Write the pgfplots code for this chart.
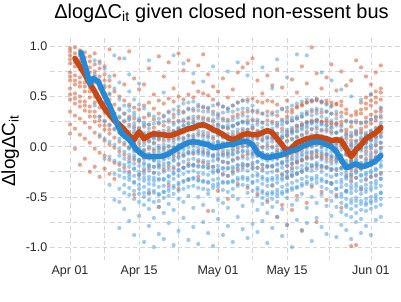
\documentclass[border=0pt]{standalone}
\usepackage{pgfplots}
\usepackage{pgfplotstable}
\pgfplotsset{compat=1.18}
\usepackage{fontspec}
\setmainfont{Liberation Sans}
\definecolor{bline}{RGB}{38,137,214}
\definecolor{oline}{RGB}{200,72,20}
\definecolor{bpt}{RGB}{80,160,225}
\definecolor{opt}{RGB}{212,92,48}
\definecolor{gridc}{RGB}{212,212,222}
\definecolor{tickc}{RGB}{40,40,40}

\pgfplotstableread{
d b1 b2 b3 b4 b5 b6 b7 b8 b9 b10 b11 b12 b13 b14 b15 b16 b17 b18 b19 b20 b21 b22
0 nan nan nan nan nan nan nan nan nan nan nan nan nan nan nan nan nan nan nan nan nan nan
1 nan nan nan nan nan nan nan nan nan nan nan nan nan nan nan nan nan nan nan nan nan nan
2 nan nan nan nan nan nan nan nan nan nan nan nan nan nan nan nan nan nan nan nan nan nan
3 nan nan nan nan nan nan nan nan nan nan nan nan nan nan nan nan nan nan nan nan nan nan
4 nan nan nan nan nan nan nan nan nan nan nan nan nan nan nan nan nan nan nan nan nan nan
5 0.86 0.72 0.55 0.41 nan nan nan nan nan nan nan nan nan nan nan nan nan nan nan nan nan nan
6 0.83 0.66 0.48 0.30 0.12 nan nan nan nan nan nan nan nan nan nan nan nan nan nan nan nan nan
7 0.78 0.61 0.44 0.25 0.08 -0.12 nan nan nan nan nan nan nan nan nan nan nan nan nan nan nan nan
8 0.70 0.52 0.38 0.21 0.05 -0.10 -0.38 nan nan nan nan nan nan nan nan nan nan nan nan nan nan nan
9 0.91 0.58 0.33 0.17 0.02 -0.14 -0.27 -0.53 nan nan nan nan nan nan nan nan nan nan nan nan nan nan
10 0.64 0.47 0.30 0.14 -0.02 -0.16 -0.29 -0.42 -0.81 nan 0.22 0.08 -0.09 -0.23 0.38 -0.55 nan nan nan nan nan nan
11 0.88 0.41 0.26 0.11 -0.05 -0.18 -0.31 -0.46 -0.62 nan 0.19 0.04 -0.12 -0.25 0.33 -0.38 nan nan nan nan nan nan
12 0.55 0.36 0.20 0.06 -0.08 -0.20 -0.33 -0.48 -0.74 0.72 0.13 0.00 -0.14 -0.27 0.28 -0.41 0.40 0.27 0.10 -0.02 -0.16 -0.30
13 0.47 0.31 0.15 0.02 -0.11 -0.22 -0.35 -0.52 -0.88 nan 0.09 -0.05 -0.17 -0.29 0.23 -0.44 0.34 0.18 0.04 -0.09 -0.22 -0.36
14 0.42 0.26 0.12 -0.01 -0.13 -0.25 -0.38 -0.55 -0.69 0.63 0.06 -0.07 -0.19 -0.32 0.19 -0.47 0.28 0.14 -0.03 -0.13 -0.28 -0.42
15 0.38 0.22 0.08 -0.04 -0.16 -0.27 -0.40 -0.58 -0.95 nan 0.02 -0.10 -0.22 -0.34 0.14 -0.50 0.24 0.10 -0.06 -0.18 -0.31 -0.46
16 0.33 0.18 0.05 -0.07 -0.18 -0.30 -0.43 -0.62 -0.79 0.86 0.00 -0.12 -0.24 -0.37 0.11 -0.53 0.22 0.09 -0.08 -0.19 -0.33 -0.47
17 0.30 0.15 0.03 -0.09 -0.20 -0.31 -0.44 -0.71 -1.00 nan -0.02 -0.14 -0.26 -0.38 0.09 -0.55 0.23 0.08 -0.07 -0.20 -0.34 -0.46
18 0.28 0.14 0.01 -0.10 -0.21 -0.33 -0.47 -0.60 -0.87 nan -0.03 -0.15 -0.27 -0.40 0.08 -0.54 0.24 0.10 -0.06 -0.18 -0.32 -0.48
19 0.31 0.16 0.02 -0.09 -0.20 -0.32 -0.45 -0.66 -0.92 0.54 -0.01 -0.13 -0.25 -0.39 0.10 -0.51 0.25 0.09 -0.05 -0.17 -0.33 -0.45
20 0.34 0.19 0.06 -0.06 -0.17 -0.29 -0.41 -0.57 -0.76 nan 0.01 -0.11 -0.23 -0.35 0.13 -0.49 0.27 0.12 -0.04 -0.16 -0.30 -0.44
21 0.37 0.22 0.09 -0.03 -0.14 -0.26 -0.39 -0.63 -0.98 0.91 0.04 -0.08 -0.20 -0.32 0.16 -0.47 0.29 0.15 0.00 -0.13 -0.27 -0.41
22 0.40 0.25 0.12 0.00 -0.11 -0.23 -0.36 -0.52 -0.84 nan 0.07 -0.05 -0.17 -0.29 0.19 -0.44 0.33 0.18 0.02 -0.10 -0.24 -0.38
23 0.43 0.27 0.14 0.03 -0.09 -0.21 -0.34 -0.55 -0.71 0.83 0.09 -0.03 -0.15 -0.27 0.21 -0.42 0.35 0.21 0.05 -0.07 -0.21 -0.35
24 0.44 0.29 0.16 0.05 -0.07 -0.19 -0.32 -0.49 -0.93 nan 0.11 -0.01 -0.13 -0.25 0.23 -0.40 0.37 0.23 0.07 -0.05 -0.19 -0.33
25 0.45 0.30 0.17 0.06 -0.06 -0.18 -0.31 -0.61 -0.80 0.73 0.12 0.00 -0.12 -0.24 0.24 -0.39 0.38 0.24 0.08 -0.04 -0.18 -0.32
26 0.42 0.28 0.16 0.05 -0.07 -0.19 -0.33 -0.50 -0.97 nan 0.11 -0.01 -0.13 -0.26 0.22 -0.41 0.36 0.23 0.06 -0.05 -0.20 -0.34
27 0.40 0.27 0.15 0.04 -0.08 -0.20 -0.34 -0.58 -0.75 0.65 0.10 -0.02 -0.14 -0.27 0.21 -0.42 0.35 0.22 0.06 -0.06 -0.20 -0.35
28 0.39 0.26 0.14 0.03 -0.09 -0.21 -0.35 -0.47 -0.86 nan 0.09 -0.03 -0.15 -0.28 0.20 -0.43 0.35 0.20 0.05 -0.07 -0.21 -0.36
29 0.41 0.27 0.15 0.04 -0.08 -0.20 -0.33 -0.64 -0.99 0.80 0.10 -0.02 -0.14 -0.26 0.21 -0.41 0.32 0.18 0.02 -0.10 -0.24 -0.38
30 0.43 0.28 0.16 0.05 -0.07 -0.19 -0.32 -0.53 -0.72 nan 0.11 -0.01 -0.13 -0.25 0.22 -0.40 0.33 0.19 0.03 -0.09 -0.23 -0.37
31 0.40 0.26 0.14 0.03 -0.09 -0.21 -0.35 -0.56 -0.88 nan 0.09 -0.03 -0.15 -0.28 0.20 -0.43 0.34 0.20 0.04 -0.08 -0.22 -0.36
32 0.38 0.25 0.13 0.02 -0.10 -0.22 -0.36 -0.61 -0.79 0.75 0.08 -0.04 -0.16 -0.29 0.19 -0.45 0.35 0.21 0.05 -0.07 -0.21 -0.35
33 0.41 0.27 0.15 0.04 -0.08 -0.20 -0.34 -0.49 -0.95 nan 0.10 -0.02 -0.14 -0.27 0.21 -0.42 0.35 0.20 0.05 -0.07 -0.22 -0.35
34 0.44 0.29 0.17 0.06 -0.06 -0.18 -0.31 -0.52 -0.70 0.84 0.12 0.00 -0.12 -0.24 0.23 -0.39 0.37 0.23 0.07 -0.05 -0.19 -0.33
35 0.46 0.31 0.18 0.07 -0.05 -0.17 -0.30 -0.59 -0.82 nan 0.13 0.01 -0.11 -0.23 0.25 -0.38 0.38 0.24 0.08 -0.04 -0.18 -0.32
36 0.45 0.30 0.17 0.06 -0.06 -0.18 -0.31 -0.46 -0.91 0.71 0.12 0.00 -0.12 -0.24 0.24 -0.39 0.38 0.23 0.08 -0.04 -0.18 -0.33
37 0.41 0.26 0.13 0.02 -0.10 -0.22 -0.36 -0.54 -0.77 nan 0.08 -0.04 -0.16 -0.29 0.19 -0.44 0.35 0.21 0.05 -0.07 -0.21 -0.35
38 0.36 0.22 0.09 -0.03 -0.15 -0.27 -0.41 -0.63 -0.85 nan 0.03 -0.09 -0.21 -0.34 0.15 -0.49 0.27 0.13 -0.03 -0.15 -0.29 -0.43
39 0.33 0.19 0.06 -0.06 -0.18 -0.30 -0.44 -0.57 -0.74 0.79 0.00 -0.12 -0.24 -0.37 0.12 -0.51 0.24 0.10 -0.06 -0.18 -0.32 -0.46
40 0.31 0.17 0.04 -0.08 -0.20 -0.32 -0.46 -0.66 -0.96 nan -0.02 -0.14 -0.26 -0.39 0.10 -0.53 0.22 0.08 -0.08 -0.20 -0.34 -0.48
41 0.32 0.18 0.05 -0.07 -0.19 -0.31 -0.45 -0.60 -0.81 0.58 -0.01 -0.13 -0.25 -0.38 0.11 -0.52 0.23 0.09 -0.07 -0.19 -0.33 -0.47
42 0.35 0.20 0.07 -0.05 -0.17 -0.29 -0.43 -0.55 -0.70 0.87 0.01 -0.11 -0.23 -0.36 0.13 -0.49 0.24 0.10 -0.06 -0.18 -0.32 -0.46
43 0.37 0.22 0.09 -0.03 -0.15 -0.27 -0.40 -0.62 -0.89 nan 0.03 -0.09 -0.21 -0.33 0.15 -0.47 0.25 0.11 -0.05 -0.17 -0.31 -0.45
44 0.39 0.24 0.11 -0.01 -0.13 -0.25 -0.38 -0.51 -0.78 0.69 0.05 -0.07 -0.19 -0.31 0.17 -0.45 0.27 0.13 -0.03 -0.15 -0.29 -0.43
45 0.41 0.26 0.13 0.01 -0.11 -0.23 -0.36 -0.58 -1.00 nan 0.07 -0.05 -0.17 -0.29 0.19 -0.43 0.29 0.15 -0.01 -0.13 -0.27 -0.41
46 0.43 0.28 0.15 0.03 -0.09 -0.21 -0.34 -0.53 -0.73 0.92 0.09 -0.03 -0.15 -0.27 0.21 -0.41 0.30 0.16 0.00 -0.12 -0.26 -0.40
47 0.45 0.30 0.17 0.05 -0.07 -0.19 -0.32 -0.47 -0.84 nan 0.11 -0.01 -0.13 -0.25 0.23 -0.39 0.33 0.19 0.03 -0.09 -0.23 -0.37
48 0.47 0.32 0.19 0.07 -0.05 -0.17 -0.30 -0.61 -0.76 0.91 0.13 0.01 -0.11 -0.23 0.25 -0.37 0.35 0.21 0.05 -0.07 -0.21 -0.35
49 0.46 0.31 0.18 0.06 -0.06 -0.18 -0.31 -0.50 -0.94 nan 0.12 0.00 -0.12 -0.24 0.24 -0.38 0.37 0.23 0.07 -0.05 -0.19 -0.33
50 0.48 0.33 0.20 0.08 -0.04 -0.16 -0.29 -0.56 -0.71 nan 0.14 0.02 -0.10 -0.22 0.26 -0.36 0.38 0.24 0.08 -0.04 -0.18 -0.32
51 0.45 0.30 0.17 0.05 -0.07 -0.19 -0.32 -0.48 -0.80 0.74 0.11 -0.01 -0.13 -0.25 0.23 -0.40 0.37 0.22 0.07 -0.05 -0.19 -0.34
52 0.42 0.28 0.15 0.03 -0.09 -0.21 -0.35 -0.59 -0.87 nan 0.09 -0.03 -0.15 -0.28 0.21 -0.42 0.35 0.21 0.05 -0.07 -0.21 -0.35
53 0.40 0.26 0.13 0.01 -0.11 -0.23 -0.37 -0.54 -0.69 0.66 0.07 -0.05 -0.17 -0.30 0.19 -0.45 0.33 0.19 0.03 -0.09 -0.23 -0.37
54 0.35 0.21 0.08 -0.04 -0.16 -0.28 -0.42 -0.60 -0.90 nan 0.02 -0.10 -0.22 -0.35 0.14 -0.50 0.28 0.14 -0.02 -0.14 -0.28 -0.42
55 0.30 0.16 0.03 -0.09 -0.21 -0.33 -0.47 -0.65 -0.78 0.57 -0.03 -0.15 -0.27 -0.40 0.09 -0.56 0.20 0.06 -0.10 -0.22 -0.36 -0.50
56 0.25 0.11 -0.02 -0.14 -0.26 -0.38 -0.52 -0.68 -0.83 nan -0.08 -0.20 -0.32 -0.45 0.04 -0.60 0.12 -0.02 -0.18 -0.30 -0.44 -0.58
57 0.24 0.10 -0.03 -0.15 -0.27 -0.39 -0.53 -0.70 -0.92 0.50 -0.09 -0.21 -0.33 -0.46 0.03 -0.62 0.14 0.00 -0.16 -0.28 -0.42 -0.56
58 0.26 0.12 -0.01 -0.13 -0.25 -0.37 -0.51 -0.66 -0.75 nan -0.07 -0.19 -0.31 -0.44 0.05 -0.59 0.16 0.02 -0.14 -0.26 -0.40 -0.54
59 0.23 0.09 -0.04 -0.16 -0.28 -0.40 -0.54 -0.72 -0.86 0.47 -0.10 -0.22 -0.34 -0.47 0.02 -0.63 0.13 -0.01 -0.17 -0.29 -0.43 -0.57
60 0.25 0.11 -0.02 -0.14 -0.26 -0.38 -0.52 -0.64 -0.79 nan -0.08 -0.20 -0.32 -0.45 0.04 -0.58 0.14 0.00 -0.16 -0.28 -0.42 -0.56
61 0.27 0.13 0.00 -0.12 -0.24 -0.36 -0.50 -0.62 -0.88 0.52 -0.06 -0.18 -0.30 -0.43 0.06 -0.56 0.16 0.02 -0.14 -0.26 -0.40 -0.54
62 0.29 0.15 0.02 -0.10 -0.22 -0.34 -0.48 -0.60 -0.73 nan -0.04 -0.16 -0.28 -0.41 0.08 -0.54 0.19 0.05 -0.11 -0.23 -0.37 -0.51
63 0.31 0.17 0.04 -0.08 -0.20 -0.32 -0.46 -0.58 -0.70 0.39 -0.02 -0.14 -0.26 -0.39 0.10 -0.52 0.24 0.10 -0.06 -0.18 -0.32 -0.46
}\bluetab

\pgfplotstableread{
d o1 o2 o3 o4 o5 o6 o7 o8 o9 o10 o11 o12 o13 o14
0 0.98 0.91 0.83 0.74 0.66 0.58 0.47 0.35 0.22 0.13 0.95 0.87 0.70 0.52
1 0.99 0.88 0.80 0.71 0.62 0.53 0.43 0.31 0.18 -0.02 0.93 0.84 0.66 0.48
2 0.96 0.86 0.77 0.69 0.60 0.50 0.40 0.28 0.12 -0.18 0.91 0.81 0.64 0.45
3 0.94 0.84 0.73 0.64 0.55 0.45 0.36 0.24 0.08 -0.12 0.89 0.78 0.60 0.41
4 0.90 0.79 0.69 0.59 0.49 0.40 0.30 0.19 0.04 -0.25 0.85 0.74 0.55 0.35
5 0.93 0.75 0.64 0.54 0.44 0.35 0.25 0.14 -0.02 -0.20 0.82 0.70 0.50 0.30
6 0.85 0.70 0.58 0.48 0.39 0.30 0.21 0.10 -0.06 -0.30 0.78 0.64 0.44 0.26
7 0.80 0.66 0.53 0.43 0.34 0.26 0.17 0.06 -0.09 -0.22 0.72 0.59 0.39 0.21
8 0.97 0.60 0.47 0.38 0.30 0.22 0.13 0.02 -0.13 -0.27 0.66 0.53 0.34 0.17
9 0.71 0.55 0.42 0.33 0.25 0.18 0.09 -0.01 -0.16 -0.32 nan nan nan nan
10 0.88 0.50 0.37 0.29 0.21 0.14 0.05 -0.05 -0.18 nan nan nan nan nan
11 0.62 0.46 0.33 0.25 0.18 0.10 0.02 -0.08 -0.21 nan nan nan nan nan
12 0.95 0.42 0.30 0.22 0.15 0.07 -0.01 -0.11 -0.25 nan nan nan nan nan
13 0.68 0.39 0.28 0.20 0.13 0.05 -0.03 -0.13 -0.48 nan nan nan nan nan
14 0.57 0.37 0.26 0.18 0.11 0.03 -0.05 -0.15 -0.28 nan nan nan nan nan
15 0.62 0.41 0.29 0.20 0.12 0.05 -0.03 -0.12 -0.24 nan nan nan nan nan
16 0.78 0.44 0.31 0.22 0.14 0.06 -0.02 -0.10 -0.21 -0.46 nan nan nan nan
17 0.52 0.38 0.27 0.19 0.11 0.04 -0.04 -0.13 -0.26 nan nan nan nan nan
18 0.90 0.46 0.33 0.23 0.15 0.07 -0.01 -0.09 -0.19 -0.60 nan nan nan nan
19 0.70 0.43 0.30 0.21 0.13 0.06 -0.02 -0.11 -0.23 nan nan nan nan nan
20 0.84 0.48 0.35 0.25 0.16 0.08 0.00 -0.08 -0.20 -0.38 nan nan nan nan
21 0.58 0.45 0.32 0.24 0.15 0.07 -0.01 -0.10 -0.22 nan nan nan nan nan
22 0.93 0.50 0.36 0.26 0.17 0.09 0.01 -0.07 -0.18 -0.42 nan nan nan nan
23 0.76 0.47 0.34 0.25 0.16 0.08 0.00 -0.09 -0.21 nan nan nan nan nan
24 0.86 0.52 0.38 0.28 0.19 0.11 0.03 -0.06 -0.17 -0.33 nan nan nan nan
25 0.64 0.49 0.36 0.27 0.18 0.10 0.02 -0.07 -0.19 nan nan nan nan nan
26 0.81 0.55 0.40 0.30 0.21 0.13 0.05 -0.04 -0.15 -0.30 nan nan nan nan
27 0.92 0.53 0.39 0.29 0.20 0.12 0.04 -0.05 -0.16 nan nan nan nan nan
28 0.72 0.51 0.38 0.28 0.19 0.11 0.03 -0.06 -0.18 -0.64 nan nan nan nan
29 0.60 0.47 0.35 0.25 0.16 0.08 0.00 -0.09 -0.20 nan nan nan nan nan
30 0.55 0.42 0.31 0.22 0.13 0.05 -0.03 -0.12 -0.24 -0.44 nan nan nan nan
31 0.68 0.40 0.28 0.19 0.10 0.02 -0.06 -0.15 -0.27 nan nan nan nan nan
32 0.49 0.38 0.27 0.18 0.09 0.01 -0.07 -0.16 -0.29 -0.52 nan nan nan nan
33 0.57 0.41 0.30 0.21 0.12 0.04 -0.04 -0.13 -0.25 nan nan nan nan nan
34 0.74 0.44 0.32 0.23 0.14 0.06 -0.02 -0.11 -0.22 -0.37 nan nan nan nan
35 0.79 0.46 0.34 0.25 0.16 0.08 0.00 -0.09 -0.20 nan nan nan nan nan
36 0.83 0.47 0.35 0.26 0.17 0.09 0.01 -0.08 -0.19 -0.41 nan nan nan nan
37 0.88 0.48 0.36 0.27 0.18 0.10 0.02 -0.07 -0.18 nan nan nan nan nan
38 0.66 0.45 0.34 0.25 0.16 0.08 0.00 -0.09 -0.21 -0.47 nan nan nan nan
39 0.53 0.44 0.33 0.24 0.15 0.07 -0.01 -0.10 -0.22 nan nan nan nan nan
40 0.71 0.46 0.35 0.26 0.17 0.09 0.01 -0.08 -0.19 -0.55 nan nan nan nan
41 0.61 0.45 0.34 0.25 0.16 0.08 0.00 -0.09 -0.20 -0.39 nan nan nan nan
42 0.77 0.42 0.31 0.22 0.13 0.05 -0.03 -0.12 -0.24 -0.70 nan nan nan nan
43 0.59 0.38 0.27 0.18 0.09 0.01 -0.07 -0.16 -0.28 -0.58 nan nan nan nan
44 0.46 0.35 0.24 0.15 0.06 -0.02 -0.10 -0.19 -0.31 -0.78 0.30 0.11 -0.09 -0.25
45 0.67 0.37 0.26 0.17 0.08 0.00 -0.08 -0.17 -0.29 -0.63 0.34 0.15 -0.05 -0.21
46 0.54 0.39 0.28 0.19 0.10 0.02 -0.06 -0.15 -0.27 -0.49 0.40 0.21 0.01 -0.16
47 0.80 0.41 0.30 0.21 0.12 0.04 -0.04 -0.13 -0.25 -0.83 0.42 0.22 0.03 -0.14
48 0.63 0.44 0.33 0.24 0.15 0.07 -0.01 -0.10 -0.22 -0.56 0.44 0.24 0.05 -0.12
49 0.99 0.46 0.35 0.26 0.17 0.09 0.01 -0.08 -0.20 -0.40 0.45 0.25 0.06 -0.11
50 0.73 0.47 0.36 0.27 0.18 0.10 0.02 -0.07 -0.19 -0.75 0.46 0.26 0.07 -0.10
51 0.58 0.45 0.34 0.25 0.16 0.08 0.00 -0.09 -0.21 -0.45 0.44 0.25 0.05 -0.11
52 0.69 0.46 0.35 0.26 0.17 0.09 0.01 -0.08 -0.20 -0.53 0.43 0.24 0.04 -0.12
53 0.82 0.44 0.33 0.24 0.15 0.07 -0.01 -0.10 -0.22 -0.36 0.41 0.22 0.02 -0.14
54 0.56 0.43 0.32 0.23 0.14 0.06 -0.02 -0.11 -0.23 -0.48 0.42 0.23 0.03 -0.13
55 0.75 0.45 0.34 0.25 0.16 0.08 0.00 -0.09 -0.21 -0.61 0.41 0.22 0.02 -0.15
56 0.61 0.37 0.26 0.17 0.08 0.00 -0.08 -0.17 -0.29 -0.44 0.33 0.14 -0.06 -0.22
57 0.66 0.31 0.20 0.11 0.02 -0.06 -0.14 -0.23 -0.35 -0.99 0.25 0.06 -0.14 -0.30
58 0.86 0.35 0.24 0.15 0.06 -0.02 -0.10 -0.19 -0.31 -0.98 0.32 0.13 -0.07 -0.23
59 0.79 0.44 0.33 0.24 0.15 0.07 -0.01 -0.10 -0.22 -0.42 0.37 0.18 -0.02 -0.18
60 0.70 0.49 0.38 0.29 0.20 0.12 0.04 -0.05 -0.17 -0.33 0.43 0.24 0.04 -0.12
61 0.62 0.52 0.41 0.32 0.23 0.15 0.07 -0.02 -0.14 -0.30 0.46 0.27 0.07 -0.09
62 0.74 0.55 0.44 0.35 0.26 0.18 0.10 0.01 -0.11 -0.29 0.49 0.30 0.10 -0.06
63 0.81 0.58 0.47 0.38 0.29 0.21 0.13 0.04 -0.08 -0.27 0.54 0.35 0.15 -0.01
}\orangetab

\pgfplotstableread{
d y
1 0.88
2 0.80
3 0.72
4 0.63
5 0.55
6 0.46
7 0.38
8 0.32
9 0.26
10 0.22
11 0.17
12 0.11
13 0.07
14 0.15
15 0.08
16 0.11
17 0.13
18 0.12
19 0.12
20 0.11
21 0.12
22 0.14
23 0.16
24 0.18
25 0.19
26 0.21
27 0.22
28 0.20
29 0.17
30 0.15
31 0.12
32 0.09
33 0.07
34 0.09
35 0.12
36 0.13
37 0.12
38 0.12
39 0.14
40 0.16
41 0.14
42 0.08
43 0.02
44 -0.05
45 -0.01
46 0.04
47 0.06
48 0.08
49 0.09
50 0.10
51 0.09
52 0.08
53 0.06
54 0.07
55 0.06
56 -0.02
57 -0.10
58 -0.03
59 0.02
60 0.08
61 0.11
62 0.14
63 0.19
}\orangeline

\pgfplotstableread{
d y
2.2 0.94
3.2 0.78
4.0 0.63
4.7 0.68
5.7 0.65
6.8 0.53
8.1 0.40
9.5 0.23
10.5 0.13
12 0.07
13.5 -0.03
15 -0.09
16 -0.10
17 -0.10
18 -0.10
19 -0.09
20 -0.07
21 -0.04
22 -0.01
23 0.02
24 0.04
25 0.05
26 0.04
27 0.03
28 0.02
29 -0.01
30 0.00
31 0.01
32 0.02
33 0.02
34 0.04
35 0.05
36 0.05
37 0.02
38 -0.06
39 -0.09
40 -0.11
41 -0.10
42 -0.09
43 -0.08
44 -0.06
45 -0.04
46 -0.03
47 0.00
48 0.02
49 0.04
50 0.05
51 0.04
52 0.02
53 0.00
54 -0.05
55 -0.13
56 -0.21
57 -0.19
58 -0.17
59 -0.20
60 -0.19
61 -0.17
62 -0.14
63 -0.09
}\blueline

\begin{document}
\begin{tikzpicture}[x=1pt,y=1pt]
\path[use as bounding box] (0,0) rectangle (401,301);
\begin{axis}[
  at={(50pt,41pt)}, anchor=south west,
  scale only axis, width=350pt, height=224pt,
  xmin=-4.06, xmax=66.9, ymin=-1.129, ymax=1.103,
  axis line style={draw=none},
  major tick length=0pt, minor tick length=0pt,
  xtick={0,14,30,44,61},
  xticklabels={Apr 01,Apr 15,May 01,May 15,Jun 01},
  minor xtick={7,22,37,52.5},
  ytick={-1,-0.5,0,0.5,1},
  yticklabels={-1.0,-0.5,0.0,0.5,1.0},
  minor ytick={-0.75,-0.25,0.25,0.75},
  grid=both,
  major grid style={gridc, line width=0.6pt, dash pattern=on 4.5pt off 3pt},
  minor grid style={gridc, line width=0.6pt, dash pattern=on 4.5pt off 3pt},
  tick label style={font=\fontsize{12.5}{14}\selectfont, text=tickc},
  xticklabel style={anchor=base, yshift=-14pt},
  yticklabel style={anchor=east, inner sep=0pt, xshift=-2.5pt},
  clip=false,
  clip marker paths=true,
]
\pgfplotsinvokeforeach{o1,o2,o3,o4,o5,o6,o7,o8,o9,o10,o11,o12,o13,o14}{
  \addplot[only marks, mark=*, mark size=2.1pt, draw=opt, fill=opt, mark options={draw=opt, draw opacity=0, fill=opt, fill opacity=0.55}] table[x=d, y=#1] {\orangetab};
}
\pgfplotsinvokeforeach{b1,b2,b3,b4,b5,b6,b7,b8,b9,b10,b11,b12,b13,b14,b15,b16,b17,b18,b19,b20,b21,b22}{
  \addplot[only marks, mark=*, mark size=2.1pt, draw=bpt, fill=bpt, mark options={draw=bpt, draw opacity=0, fill=bpt, fill opacity=0.55}] table[x=d, y=#1] {\bluetab};
}
\addplot[oline, line width=5.5pt, line join=round, line cap=round, no marks] table[x=d, y=y] {\orangeline};
\addplot[bline, line width=5.5pt, line join=round, line cap=round, no marks] table[x=d, y=y] {\blueline};
\end{axis}
\node[anchor=base, font=\fontsize{20}{24}\selectfont] at (221.5,283) {ΔlogΔC\textsubscript{it} given closed non-essent bus};
\node[anchor=base, rotate=90, font=\fontsize{19}{22}\selectfont] at (15,150) {ΔlogΔC\textsubscript{it}};
\end{tikzpicture}
\end{document}
